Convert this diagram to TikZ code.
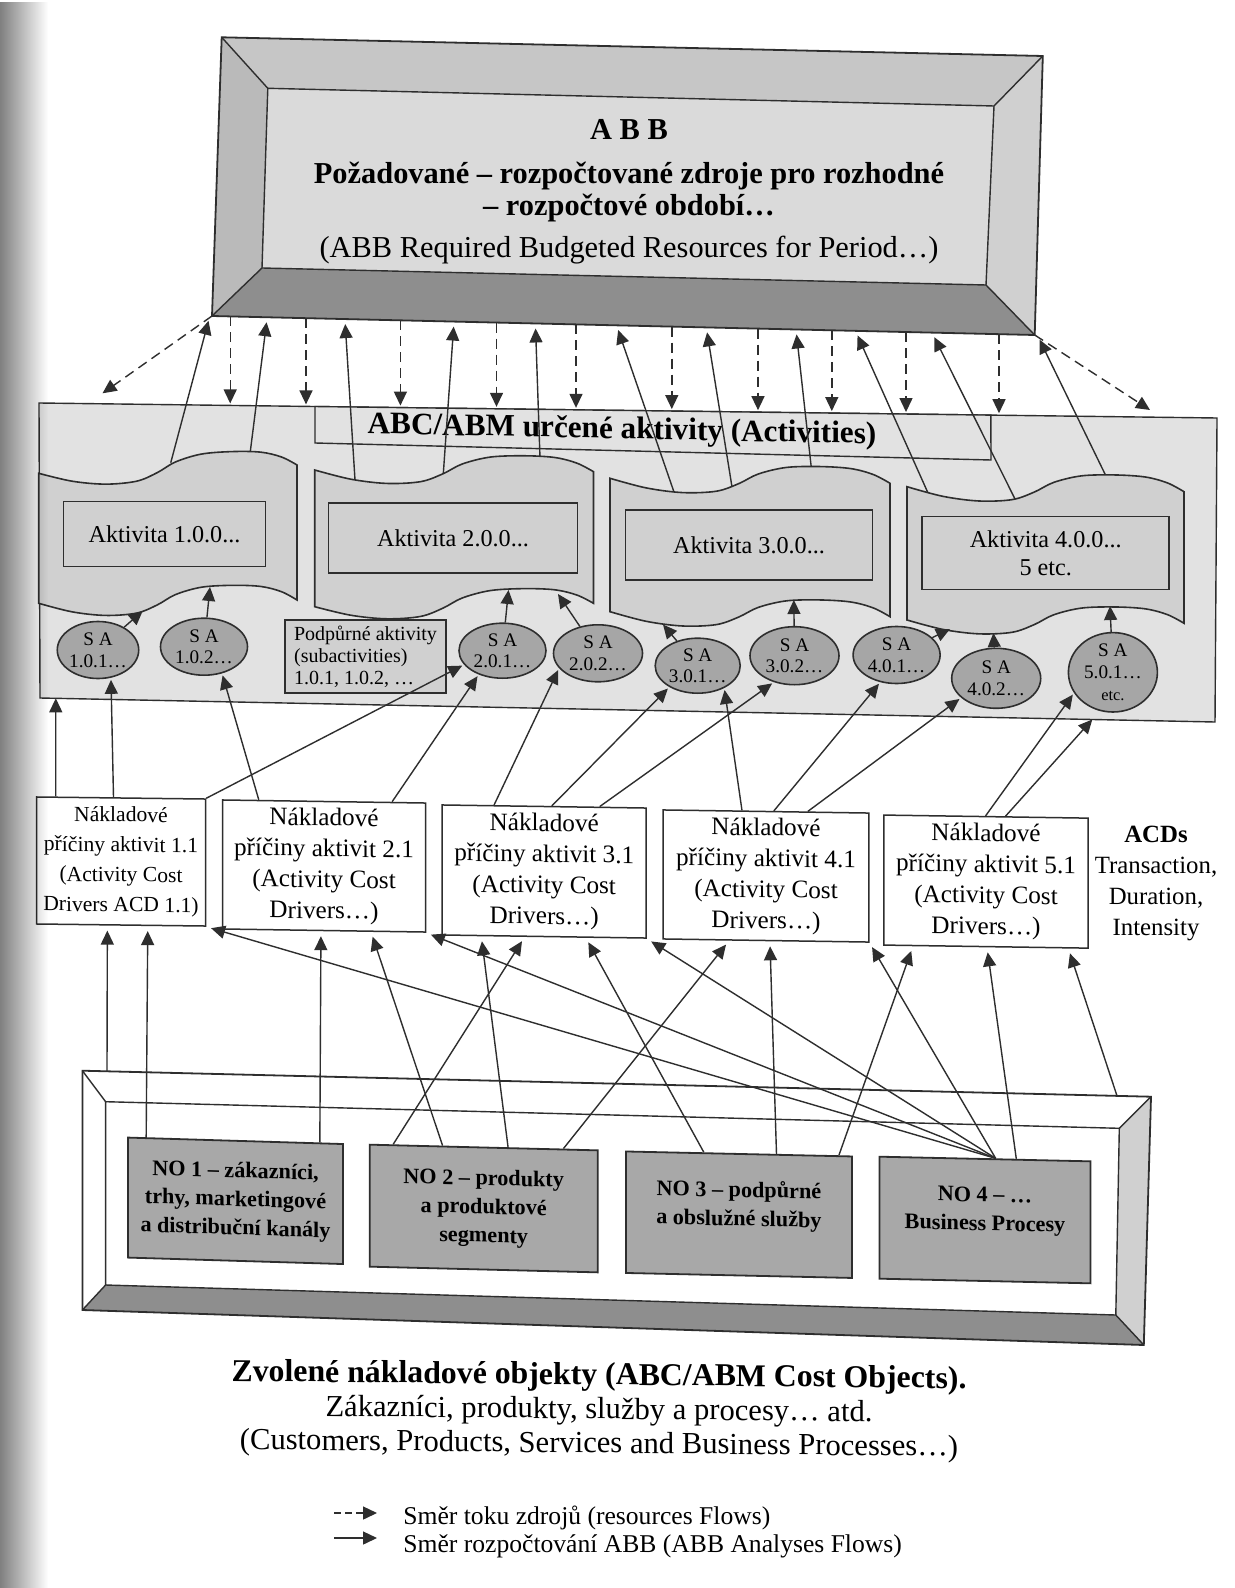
\documentclass[tikz,border=0pt]{standalone}
\usepackage{fontspec}
\setmainfont{Liberation Serif}
\usetikzlibrary{arrows.meta,calc,fadings,shapes.geometric}

\definecolor{ink}{HTML}{2E2E2E}
\definecolor{plate}{HTML}{E2E2E2}
\definecolor{cloudfill}{HTML}{D0D0D0}
\definecolor{ovalfill}{HTML}{A6A6A6}
\definecolor{objfill}{HTML}{A8A8A8}
\definecolor{abbface}{HTML}{DADADA}
\definecolor{bevtop}{HTML}{C6C6C6}
\definecolor{bevleft}{HTML}{BABABA}
\definecolor{bevright}{HTML}{D0D0D0}
\definecolor{bevbottom}{HTML}{8E8E8E}

\tikzfading[name=gutterfade, left color=transparent!0, right color=transparent!100]

% wavy "tape" outline: style, x0, x1, top-left y, top-right y, bottom-left y, bottom-right y
\newcommand\tapecloud[7]{%
 \filldraw[#1] plot[smooth,tension=.55] coordinates {
  (#2,#4)
  ({#2+.13*(#3-#2)},{#4+.13*(#5-#4)+9})
  ({#2+.26*(#3-#2)},{#4+.26*(#5-#4)+13})
  ({#2+.38*(#3-#2)},{#4+.38*(#5-#4)+11})
  ({#2+.46*(#3-#2)},{#4+.46*(#5-#4)+3})
  ({#2+.53*(#3-#2)},{#4+.53*(#5-#4)-7})
  ({#2+.63*(#3-#2)},{#4+.63*(#5-#4)-14})
  ({#2+.75*(#3-#2)},{#4+.75*(#5-#4)-15.5})
  ({#2+.86*(#3-#2)},{#4+.86*(#5-#4)-14})
  ({#2+.94*(#3-#2)},{#4+.94*(#5-#4)-8.5})
  (#3,#5)}
 -- plot[smooth,tension=.55] coordinates {
  (#3,#7)
  ({#2+.94*(#3-#2)},{#6+.94*(#7-#6)-8.5})
  ({#2+.86*(#3-#2)},{#6+.86*(#7-#6)-14})
  ({#2+.75*(#3-#2)},{#6+.75*(#7-#6)-15.5})
  ({#2+.63*(#3-#2)},{#6+.63*(#7-#6)-14})
  ({#2+.53*(#3-#2)},{#6+.53*(#7-#6)-7})
  ({#2+.46*(#3-#2)},{#6+.46*(#7-#6)+3})
  ({#2+.38*(#3-#2)},{#6+.38*(#7-#6)+11})
  ({#2+.26*(#3-#2)},{#6+.26*(#7-#6)+13})
  ({#2+.13*(#3-#2)},{#6+.13*(#7-#6)+9})
  (#2,#6)} -- cycle;}

\begin{document}
\begin{tikzpicture}[x=0.5pt,y=-0.5pt,
  ln/.style={draw=ink, line width=0.7pt},
  flow/.style={draw=ink, line width=0.7pt, -{Triangle[length=7pt,width=6.5pt]}},
  resflow/.style={flow, dash pattern=on 5pt off 3pt},
  cloud/.style={draw=ink, line width=0.8pt, fill=cloudfill},
  actbox/.style={draw=ink, line width=0.8pt, fill=cloudfill, inner sep=0pt, align=center,
    font=\fontsize{12.1}{14}\selectfont},
  sa/.style={ellipse, draw=ink, line width=0.8pt, fill=ovalfill, inner sep=0pt, align=center,
    font=\fontsize{9.6}{10.8}\selectfont},
  drv/.style={draw=ink, line width=0.75pt, fill=white, inner sep=0pt, align=center,
    font=\fontsize{12.6}{15.5}\selectfont},
  obj/.style={draw=ink, line width=0.9pt, fill=objfill, inner sep=0pt, align=center,
    font=\fontsize{11.1}{14.3}\selectfont\bfseries},
  txt/.style={inner sep=0pt, align=center}]

\useasboundingbox (0,0) rectangle (1235,1588);
\fill[white] (0,0) rectangle (1235,1588);

% ---------- ABB plate ----------
\coordinate (tOL) at (221.7,37.3);  \coordinate (tOR) at (1042.8,56);
\coordinate (tUR) at (1034.7,335);  \coordinate (tUL) at (212,316);
\coordinate (tIL) at (267.8,88.3);  \coordinate (tIR) at (994,106);
\coordinate (tJR) at (986,285);     \coordinate (tJL) at (262,268);
\fill[bevtop]    (tOL)--(tOR)--(tIR)--(tIL)--cycle;
\fill[bevleft]   (tOL)--(tIL)--(tJL)--(tUL)--cycle;
\fill[bevright]  (tOR)--(tUR)--(tJR)--(tIR)--cycle;
\fill[bevbottom] (tUL)--(tJL)--(tJR)--(tUR)--cycle;
\fill[abbface]   (tIL)--(tIR)--(tJR)--(tJL)--cycle;
\draw[ln, line width=0.9pt] (tOL)--(tOR)--(tUR)--(tUL)--cycle;
\draw[ln] (tIL)--(tIR)--(tJR)--(tJL)--cycle;
\draw[ln] (tOL)--(tIL) (tOR)--(tIR) (tUR)--(tJR) (tUL)--(tJL);
\node[txt, font=\fontsize{15.2}{16}\selectfont] (abb) at (629,192) {%
  \textbf{A B B}\\[6pt]
  \textbf{Požadované – rozpočtované zdroje pro rozhodné}\\
  \textbf{– rozpočtové období…}\\[5pt]
  (ABB Required Budgeted Resources for Period…)};

% ---------- activities plate ----------
\coordinate (cTL) at (39,403);  \coordinate (cTR) at (1217,418);
\coordinate (cBR) at (1215,722); \coordinate (cBL) at (40,698);
\filldraw[ln, fill=plate] (cTL)--(cTR)--(cBR)--(cBL)--cycle;
\coordinate (hTL) at ($(cTL)!.2343!(cTR)$); \coordinate (hTR) at ($(cTL)!.808!(cTR)$);
\coordinate (hBR) at (991,460);   \coordinate (hBL) at (315,443);
\filldraw[ln, fill=plate] (hTL)--(hTR)--(hBR)--(hBL)--cycle;
\node[txt, yslant=-0.02, font=\fontsize{15.6}{17}\selectfont\bfseries] (acttitle) at (622,431)
  {ABC/ABM určené aktivity (Activities)};

% resource flows from the ABB plate
\foreach \x [count=\i] in {230.2,306,400.4,496.5,576,671.8,758,831.8,906,999}{
  \coordinate (rs\i) at (\x,{316+(\x-212)*0.02309});
  \coordinate (rt\i) at (\x,{403+(\x-39)*0.01273});
  \draw[resflow, shorten >=1pt] (rs\i) -- (rt\i);}
\coordinate (rl) at (102.5,393.3);
\coordinate (rr) at (1150,410);
\draw[resflow] (tUL) -- (rl);
\draw[resflow] (tUR) -- (rr);

% budgeting flows from the activities up to the ABB plate
\foreach \tx/\ty/\hx [count=\i] in {172.8/455/209.8, 250.5/450/267.2, 355/480/344.9,
   443/478/454, 540/458/535.4, 675/495/616.5, 732/487/706.3, 811/465/796,
   928/493/855.5, 1015/499/932, 1104/472/1037.3}{
  \coordinate (up\i) at (\tx,\ty);
  \coordinate (uh\i) at (\hx,{316+(\hx-212)*0.02309});
  \draw[flow, shorten >=2.5pt] ($(up\i)!-4pt!(uh\i)$) -- (uh\i);}

% activity tapes
\tapecloud{cloud}{38.7}{297}{473.3}{465}{603.3}{600}
\tapecloud{cloud}{314.7}{593.5}{470}{471.7}{606.7}{603.3}
\tapecloud{cloud}{610}{890}{478.3}{483.3}{611.7}{616.7}
\tapecloud{cloud}{907}{1184}{486.7}{491.7}{620}{623.3}

\node[actbox, minimum width=101pt, minimum height=32.5pt] (a1) at (164.5,534) {Aktivita 1.0.0...};
\node[actbox, minimum width=124.5pt, minimum height=35pt] (a2) at (453,538) {Aktivita 2.0.0...};
\node[actbox, minimum width=123.5pt, minimum height=35pt] (a3) at (749,545) {Aktivita 3.0.0...};
\node[actbox, minimum width=123.5pt, minimum height=36.5pt] (a4) at (1045.7,553) {Aktivita 4.0.0...\\5 etc.};

% subactivities
\node[sa, minimum width=38.5pt, minimum height=28.5pt] (sa101) at (98,650) {S A\\1.0.1…};
\node[sa, minimum width=43.5pt, minimum height=28.5pt] (sa102) at (204,646.7) {S A\\1.0.2…};
\node[sa, minimum width=43.5pt, minimum height=27.5pt] (sa201) at (502.5,650.7) {S A\\2.0.1…};
\node[sa, minimum width=44.5pt, minimum height=28.5pt] (sa202) at (598,653.3) {S A\\2.0.2…};
\node[sa, minimum width=42.5pt, minimum height=27.5pt] (sa301) at (697.7,665.7) {S A\\3.0.1…};
\node[sa, minimum width=44.5pt, minimum height=29pt] (sa302) at (794.5,655.7) {S A\\3.0.2…};
\node[sa, minimum width=43.5pt, minimum height=28.5pt] (sa401) at (896.6,655) {S A\\4.0.1…};
\node[sa, minimum width=44.5pt, minimum height=30pt] (sa402) at (996.2,678.3) {S A\\4.0.2…};
\node[sa, minimum width=44.5pt, minimum height=36pt] (sa501) at (1112.9,672.3)
  {S A\\5.0.1…\\{\fontsize{8.2}{10}\selectfont etc.}};
\node[draw=ink, line width=0.8pt, fill=cloudfill, minimum width=80.5pt, minimum height=36.5pt,
  inner sep=2pt, align=left, font=\fontsize{10}{10.8}\selectfont] (sub) at (365.5,656.7)
  {Podpůrné aktivity\\(subactivities)\\1.0.1, 1.0.2, …};

% subactivities feeding the activities
\foreach \s/\px/\py in {sa101/142.7/611, sa102/210/587, sa201/508.5/590, sa202/558/594,
   sa301/663/624.5, sa302/793.8/600, sa401/950/629, sa402/993.4/633, sa501/1110/606}{
  \coordinate (in-\s) at (\px,\py);
  \draw[flow] (\s) -- (in-\s);}

% ---------- activity cost drivers ----------
\node[drv, yslant=-0.012, minimum width=84.5pt, minimum height=63.5pt,
  font=\fontsize{10.8}{15}\selectfont] (d1) at (121,861.5)
  {Nákladové\\příčiny aktivit 1.1\\(Activity Cost\\Drivers ACD 1.1)};
\node[drv, yslant=-0.015, minimum width=101.5pt, minimum height=64.5pt] (d2) at (324,866)
  {Nákladové\\příčiny aktivit 2.1\\(Activity Cost\\Drivers…)};
\node[drv, yslant=-0.015, minimum width=102pt, minimum height=65pt] (d3) at (544.2,871.5)
  {Nákladové\\příčiny aktivit 3.1\\(Activity Cost\\Drivers…)};
\node[drv, yslant=-0.015, minimum width=102.8pt, minimum height=64.5pt] (d4) at (766,876)
  {Nákladové\\příčiny aktivit 4.1\\(Activity Cost\\Drivers…)};
\node[drv, yslant=-0.015, minimum width=102.2pt, minimum height=65pt] (d5) at (986,881.6)
  {Nákladové\\příčiny aktivit 5.1\\(Activity Cost\\Drivers…)};
\node[txt, font=\fontsize{12.4}{15.5}\selectfont] (acds) at (1156,883)
  {\textbf{ACDs}\\Transaction,\\Duration,\\Intensity};

% drivers up to the subactivities
\coordinate (cb1) at (55.8,{698+(55.8-40)*0.0204});
\coordinate (cb2) at (1092.3,{698+(1092.3-40)*0.0204});
\draw[flow] ($(d1.north west)!.117!(d1.north east)$) -- (cb1);
\draw[flow, shorten >=1pt] ($(d1.north west)!.456!(d1.north east)$) -- (sa101.295);
\draw[flow, shorten >=1pt] (d1.north east) -- (sa201.200);
\draw[flow, shorten >=1pt] ($(d2.north west)!.181!(d2.north east)$) -- (sa102.304);
\draw[flow, shorten >=1pt] ($(d2.north west)!.833!(d2.north east)$) -- (sa201.225);
\draw[flow, shorten >=1pt] ($(d3.north west)!.256!(d3.north east)$) -- (sa202.201);
\draw[flow, shorten >=1pt] ($(d3.north west)!.537!(d3.north east)$) -- (sa301.217);
\draw[flow, shorten >=1pt] ($(d3.north west)!.77!(d3.north east)$) -- (sa302.232);
\draw[flow, shorten >=1pt] ($(d4.north west)!.384!(d4.north east)$) -- (sa301.320);
\draw[flow, shorten >=1pt] ($(d4.north west)!.538!(d4.north east)$) -- (sa401.239);
\draw[flow, shorten >=1pt] ($(d4.north west)!.702!(d4.north east)$) -- (sa402.209);
\draw[flow, shorten >=1pt] ($(d5.north west)!.498!(d5.north east)$) -- (sa501.208);
\draw[flow] ($(d5.north west)!.595!(d5.north east)$) -- (cb2);

% ---------- cost objects frame ----------
\coordinate (bOL) at (82.4,1070.7);  \coordinate (bOR) at (1151,1096.7);
\coordinate (bUR) at (1143.8,1345);  \coordinate (bUL) at (82.4,1310);
\coordinate (bIL) at (105.6,1101.7); \coordinate (bIR) at (1119.3,1128.3);
\coordinate (bJR) at (1115.8,1315);  \coordinate (bJL) at (105.6,1285);
\fill[white] (bOL)--(bOR)--(bUR)--(bUL)--cycle;
\fill[bevright]  (bOR)--(bUR)--(bJR)--(bIR)--cycle;
\fill[bevbottom] (bUL)--(bJL)--(bJR)--(bUR)--cycle;
\draw[ln, line width=0.9pt] (bOL)--(bOR)--(bUR)--(bUL)--cycle;
\draw[ln] (bIL)--(bIR)--(bJR)--(bJL)--cycle;
\draw[ln] (bOL)--(bIL) (bOR)--(bIR) (bUR)--(bJR) (bUL)--(bJL);

\node[obj, yslant=-0.03, minimum width=107.5pt, minimum height=60pt] (no1) at (235.5,1200.8)
  {NO 1 – zákazníci,\\trhy, marketingové\\a distribuční kanály};
\node[obj, yslant=-0.025, minimum width=114pt, minimum height=61pt] (no2) at (483.7,1208.5)
  {NO 2 – produkty\\a produktové\\segmenty};
\node[obj, yslant=-0.022, minimum width=113pt, minimum height=60.75pt] (no3) at (738.9,1214.7)
  {NO 3 – podpůrné\\a obslužné služby\\[-3pt]\mbox{}};
\node[obj, yslant=-0.022, minimum width=105.5pt, minimum height=61pt] (no4) at (985,1220)
  {NO 4 – …\\Business Procesy\\[-3pt]\mbox{}};

% cost objects up to the drivers
\coordinate (fo1) at (107,{1070.7+(107-82.4)*0.02433});
\coordinate (fo2) at (1117,{1070.7+(1117-82.4)*0.02433});
\coordinate (fan) at ($(no4.north west)!.55!(no4.north east)$);
\tikzset{objflow/.style={flow, shorten >=2.5pt}}
\draw[objflow] (fo1) -- ($(d1.south west)!.42!(d1.south east)$);
\draw[objflow] ($(no1.north west)!.088!(no1.north east)$) -- ($(d1.south west)!.657!(d1.south east)$);
\draw[objflow] (fan) -- (d1.south east);
\draw[objflow] ($(no1.north west)!.889!(no1.north east)$) -- ($(d2.south west)!.485!(d2.south east)$);
\draw[objflow] ($(no2.north west)!.321!(no2.north east)$) -- ($(d2.south west)!.73!(d2.south east)$);
\draw[objflow] (fan) -- (d2.south east);
\draw[objflow] ($(no2.north west)!.606!(no2.north east)$) -- ($(d3.south west)!.194!(d3.south east)$);
\draw[objflow] ($(no2.north west)!.106!(no2.north east)$) -- ($(d3.south west)!.405!(d3.south east)$);
\draw[objflow] ($(no3.north west)!.346!(no3.north east)$) -- ($(d3.south west)!.703!(d3.south east)$);
\draw[objflow] (fan) -- (d3.south east);
\draw[objflow] ($(no2.north west)!.847!(no2.north east)$) -- ($(d4.south west)!.322!(d4.south east)$);
\draw[objflow] ($(no3.north west)!.665!(no3.north east)$) -- ($(d4.south west)!.519!(d4.south east)$);
\draw[objflow] (fan) -- (d4.south east);
\draw[objflow] ($(no3.north west)!.939!(no3.north east)$) -- ($(d5.south west)!.145!(d5.south east)$);
\draw[objflow] ($(no4.north west)!.647!(no4.north east)$) -- ($(d5.south west)!.505!(d5.south east)$);
\draw[objflow] (fo2) -- ($(d5.south west)!.90!(d5.south east)$);

% ---------- captions ----------
\node[txt, yslant=-0.01, font=\fontsize{15.3}{17}\selectfont] (objects) at (599,1411)
  {{\fontsize{15.9}{17}\selectfont\bfseries Zvolené nákladové objekty (ABC/ABM Cost Objects).}\\
   Zákazníci, produkty, služby a procesy… atd.\\
   (Customers, Products, Services and Business Processes…)};

% legend
\coordinate (lg1a) at (334,1513); \coordinate (lg1b) at (377,1513);
\coordinate (lg2a) at (334,1538); \coordinate (lg2b) at (377,1538);
\draw[flow, dash pattern=on 3.5pt off 2pt] (lg1a) -- (lg1b);
\draw[flow] (lg2a) -- (lg2b);
\node[txt, anchor=west, font=\fontsize{12.8}{15}\selectfont] (lgt1) at (403,1518)
  {Směr toku zdrojů (resources Flows)};
\node[txt, anchor=west, font=\fontsize{12.8}{15}\selectfont] (lgt2) at (403,1546)
  {Směr rozpočtování ABB (ABB Analyses Flows)};

% shadow of the binding along the left margin
\fill[black, opacity=.5, path fading=gutterfade] (0,0) rectangle (48,1588);
\end{tikzpicture}
\end{document}
